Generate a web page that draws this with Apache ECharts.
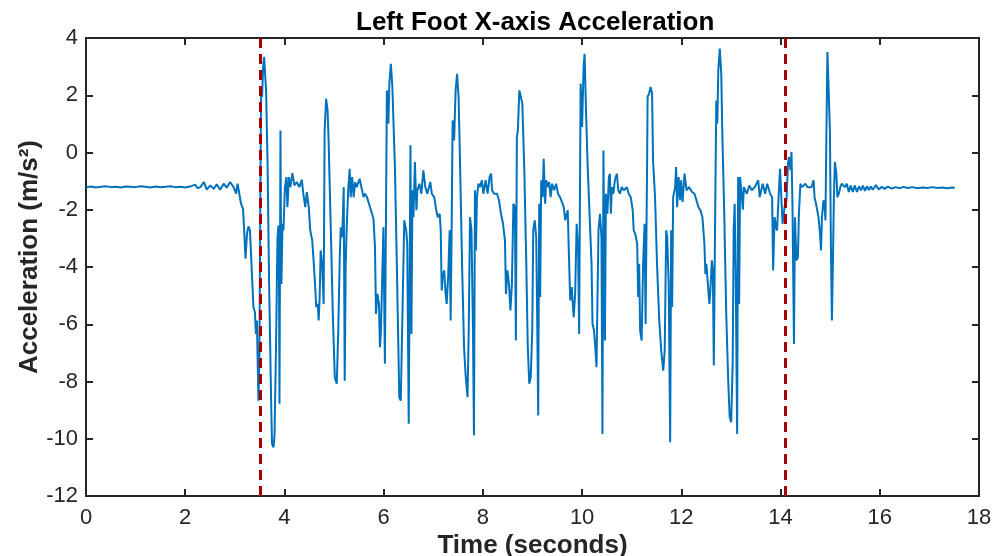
<!DOCTYPE html>
<html>
<head>
<meta charset="utf-8">
<script src="https://cdn.jsdelivr.net/npm/echarts@6/dist/echarts.min.js"></script>
<style>html,body{margin:0;padding:0;background:#fff}#chart{width:995px;height:556px}</style>
</head>
<body>
<div id="chart"></div>
<script>
const time = [
0,0.1,0.2,0.3,0.4,0.5,0.6,0.7,0.8,0.9,1.0,1.1,1.2,1.3,1.4,1.5,1.6,1.7,1.8,1.9,2.0,2.1,2.2,2.25,
2.305,2.375,2.435,2.505,2.575,2.635,2.705,2.775,2.835,2.905,2.975,3.025,3.055,3.095,3.125,3.165,3.185,3.215,3.245,3.275,3.305,3.345,3.375,3.405,3.425,3.445,3.475,3.495,
3.52,3.53,3.55,3.57,3.59,3.61,3.63,3.66,3.69,3.73,3.75,3.78,3.8,3.83,3.86,3.88,3.89,3.9,3.92,3.93,3.94,3.96,3.98,4.01,4.04,4.06,4.09,4.12,4.16,4.2,4.25,4.3,4.35,4.38,4.42,4.45,4.49,4.52,4.56,4.6,4.62,4.64,4.67,4.69,4.71,4.73,4.76,4.79,4.81,4.84,4.87,4.89,
4.935,4.975,5.015,5.035,5.055,5.085,5.115,5.135,5.165,5.195,5.215,5.235,5.255,5.285,5.315,5.335,5.365,5.395,5.425,5.455,5.515,5.565,5.595,5.625,5.665,5.725,5.765,5.795,5.825,5.845,5.875,5.905,5.925,5.945,
5.995,6.025,6.065,6.095,6.115,6.145,6.175,6.225,6.265,6.315,6.345,6.375,6.415,6.455,6.475,6.505,
6.54,6.56,6.58,6.6,6.63,6.66,6.68,6.72,6.76,6.8,6.84,6.88,6.94,6.97,7.02,7.06,7.09,7.13,7.15,7.17,7.19,7.22,7.25,7.27,7.3,7.33,7.35,7.37,7.39,7.42,7.45,7.48,7.51,7.54,7.58,7.62,7.65,7.69,7.715,7.74,7.77,7.8,7.82,7.84,7.86,7.88,7.91,7.94,7.98,8.01,
8.055,8.095,8.135,8.165,8.185,8.225,8.285,8.325,8.365,8.405,8.445,8.465,8.495,8.525,8.555,8.585,8.615,8.645,8.665,8.685,8.705,8.735,8.765,8.795,8.835,8.875,8.905,8.935,8.965,8.995,9.015,9.045,9.075,9.095,9.115,9.135,9.155,9.175,9.205,9.225,9.255,9.275,9.315,9.335,9.365,9.395,9.435,9.475,9.515,9.555,
9.59,9.63,9.66,9.71,9.73,9.76,9.79,9.83,9.86,9.89,9.92,9.94,9.97,10.0,10.03,10.05,10.08,10.11,10.15,10.19,10.21,10.24,10.27,10.29,10.33,10.36,10.39,10.41,10.43,10.46,10.48,10.51,10.54,10.56,10.58,10.6,10.63,10.66,10.7,10.73,10.76,10.8,10.84,10.9,10.94,10.98,11.02,11.04,11.07,11.11,11.13,11.15,11.17,11.2,11.23,11.26,11.28,11.31,11.32,11.35,11.38,11.41,11.43,11.47,11.51,
11.555,11.595,11.635,11.665,11.695,11.715,11.745,11.775,11.795,11.815,11.835,11.875,11.895,11.915,11.945,11.975,11.995,12.025,12.065,12.105,12.155,12.215,12.265,12.305,12.345,12.385,12.425,12.465,12.485,12.505,12.535,12.565,12.585,12.615,12.635,12.655,12.685,12.705,12.725,12.745,12.775,12.805,12.825,12.865,12.905,12.945,12.975,13.005,13.035,13.055,13.075,13.095,13.125,13.145,13.165,13.185,
13.22,13.24,13.26,13.32,13.37,13.42,13.48,13.55,13.58,13.64,13.69,13.73,13.79,13.83,13.85,13.88,13.91,13.93,13.96,13.99,14.01,14.04,14.07,14.09,14.12,14.15,14.17,14.2,14.22,14.24,14.27,14.29,14.32,14.35,14.37,14.4,14.43,14.45,14.5,
14.545,14.585,14.625,14.665,14.685,14.715,14.745,14.765,14.795,14.815,14.835,14.865,14.885,14.905,14.925,14.945,14.965,14.995,15.015,15.035,15.055,15.075,15.095,15.125,15.145,15.175,15.205,15.235,15.265,15.295,15.335,15.375,15.415,15.455,15.495,
15.54,15.58,15.62,15.66,15.7,15.74,15.78,15.82,15.86,15.92,15.98,16.04,16.1,16.16,16.24,16.32,16.4,16.48,16.56,16.66,16.76,16.86,16.96,17.06,17.16,17.26,17.36,17.46,17.51
];
const accel = [
-1.21,-1.19,-1.22,-1.2,-1.18,-1.21,-1.2,-1.22,-1.19,-1.2,-1.21,-1.18,-1.2,-1.22,-1.19,-1.21,-1.2,-1.18,-1.21,-1.2,-1.22,-1.19,-1.12,-1.25,
-1.21,-1.03,-1.3,-1.15,-1.27,-1.11,-1.3,-1.09,-1.23,-1.03,-1.21,-1.44,-1.09,-1.03,-1.79,-1.97,-2.61,-3.71,-2.84,-2.58,-2.72,-2.66,-5.4,-5.58,-6.34,-5.87,-8.67,-7.15,
-0.04,2.29,1.94,2.99,3.34,2.75,2.17,-0.39,-4.47,-8.55,-10.18,-10.3,-9.89,-6.8,-2.96,-2.55,-4.47,-8.78,0.77,-2.72,-4.59,-2.49,-2.72,-1.21,-0.86,-1.91,-0.86,-1.21,-0.72,-1.15,-1.03,-1.21,-0.95,-1.44,-1.91,-1.38,-1.91,-2.72,-3.07,-4.12,-4.7,-5.4,-5.29,-5.87,-5.05,-3.42,-3.89,-5.29,0.77,1.88,1.47,0.42,
-2.72,-5.64,-7.85,-7.97,-8.08,-6.22,-3.66,-2.61,-2.96,-1.21,-7.97,-3.89,-2.61,-1.32,-0.57,-1.56,-0.86,-1.56,-1.03,-1.21,-0.92,-1.32,-1.56,-1.44,-1.56,-1.91,-2.14,-2.32,-3.31,-5.64,-4.94,-5.29,-6.8,-6.22,
-2.61,-7.38,2.17,1.01,2.41,3.1,2.3,-0.39,-3.89,-8.55,-8.67,-8.73,-2.37,-2.72,-3.19,-9.48,
0.25,-6.34,-1.32,-2.26,-0.33,-2.02,-1.32,-1.09,-1.44,-0.62,-1.21,-1.44,-1.03,-1.44,-1.56,-2.02,-2.26,-2.14,-2.72,-4.82,-4.35,-4.12,-4.94,-5.29,-4.35,-2.72,-5.87,-2.72,1.12,0.42,2.17,2.75,1.94,-0.39,-3.89,-6.8,-7.73,-8.55,-6.22,-2.26,-2.72,-6.22,-9.89,-1.32,-3.42,-1.56,-1.09,-1.21,-0.97,-1.44,
-0.97,-1.44,-0.86,-0.74,-1.32,-1.44,-1.44,-1.67,-2.14,-2.49,-3.07,-4.94,-4.12,-4.59,-5.52,-4.59,-1.79,-1.91,-6.57,0.54,0.77,2.17,2.23,1.71,-0.62,-3.89,-6.8,-8.08,-7.85,-6.22,-2.72,-2.37,-2.96,-5.87,-9.19,-1.79,-5.05,-0.97,-1.56,-0.22,-1.79,-0.97,-1.21,-1.03,-1.56,-1.09,-1.32,-1.09,-1.44,-1.56,
-1.6,-1.9,-2.37,-2.02,-3.31,-5.17,-4.7,-5.75,-4.94,-2.49,-3.42,-6.34,2.41,0.89,2.99,3.45,1.36,-0.39,-2.14,-3.89,-5.99,-6.22,-6.92,-7.5,-2.72,-2.14,-2.96,-9.83,0.07,-6.57,-1.44,-2.14,-0.86,-0.74,-2.14,-1.21,-1.44,-0.97,-0.74,-1.32,-1.44,-1.21,-1.32,-1.21,-1.44,-1.56,-2.02,-2.72,-2.84,-3.19,-5.05,-3.89,-6.22,-6.57,-3.89,-2.49,-5.99,-0.39,1.94,2.06,2.29,2.06,-0.28,-1.56,-3.89,
-5.87,-6.92,-7.62,-6.92,-2.72,-2.96,-4.59,-10.12,-2.72,-5.4,-1.56,-1.21,-0.51,-1.91,-0.86,-1.67,-0.97,-1.73,-0.74,-1.32,-1.21,-1.38,-1.44,-1.67,-1.91,-2.02,-2.26,-3.19,-4.24,-3.89,-4.59,-5.29,-4.82,-3.77,-4.12,-7.44,-1.56,1.82,1.01,2.87,3.63,2.75,0.77,-2.14,-5.64,-7.97,-9.25,-9.42,-7.38,-2.72,-1.79,-4.12,-9.83,-0.86,-5.29,-0.86,
-1.56,-2.0,-1.21,-1.44,-1.15,-1.32,-1.21,-0.97,-1.56,-1.09,-1.44,-1.09,-1.44,-1.56,-4.12,-2.26,-2.61,-2.72,-1.56,-0.57,-0.62,-2.49,-2.55,-1.79,-1.67,-0.39,-0.16,-0.62,0.02,-1.79,-6.69,-2.26,-3.77,-3.66,-2.14,-1.09,-1.21,-1.15,-1.09,
-1.21,-1.15,-1.21,-0.97,-1.56,-1.79,-1.79,-2.26,-2.84,-3.42,-2.26,-1.67,-1.79,-2.37,0.77,3.51,3.45,0.77,-3.31,-5.87,-3.89,-1.56,-0.33,-0.74,-1.56,-1.44,-1.21,-1.09,-1.03,-1.21,-1.09,-1.38,-1.15,-1.38,-1.15,
-1.38,-1.18,-1.32,-1.16,-1.34,-1.18,-1.31,-1.19,-1.3,-1.14,-1.29,-1.2,-1.27,-1.19,-1.26,-1.21,-1.25,-1.2,-1.24,-1.21,-1.25,-1.22,-1.24,-1.21,-1.24,-1.22,-1.25,-1.22,-1.24
];
const markerTimes = [3.525, 14.087];
const xRange = [0, 18, 2];
const yRange = [-12, 4, 2];

const FONT = '"Liberation Sans", Arial, Helvetica, sans-serif';
const AX = '#262626';
const lineData = time.map((t, i) => [t, accel[i]]);

function baseAxis(r, show) {
  return {
    type: 'value', min: r[0], max: r[1], interval: r[2],
    axisLine: { show: true, onZero: false, lineStyle: { color: AX, width: 2 } },
    axisTick: { show: true, inside: true, length: 7, lineStyle: { color: AX, width: 2 } },
    axisLabel: { show: show, color: AX, fontSize: 22, fontFamily: FONT },
    splitLine: { show: false }
  };
}

const chart = echarts.init(document.getElementById('chart'), null, { renderer: 'canvas' });
const bx = baseAxis(xRange, true);
bx.position = 'bottom';
bx.axisLabel.margin = 11;
bx.name = 'Time (seconds)';
bx.nameLocation = 'middle';
bx.nameGap = 37;
bx.nameMoveOverlap = false;
bx.nameTextStyle = { fontSize: 26, fontWeight: 'bold', color: AX, fontFamily: FONT };
const tx = baseAxis(xRange, false); tx.position = 'top';
const ly = baseAxis(yRange, true);
ly.position = 'left';
ly.axisLabel.margin = 8;
ly.name = 'Acceleration (m/s²)';
ly.nameLocation = 'middle';
ly.nameGap = 43;
ly.nameMoveOverlap = false;
ly.nameTextStyle = { fontSize: 26, fontWeight: 'bold', color: AX, fontFamily: FONT, padding: [0, 0, 0, 20] };
const ry = baseAxis(yRange, false); ry.position = 'right';

chart.setOption({
  animation: false,
  backgroundColor: '#fff',
  title: {
    text: 'Left Foot X-axis Acceleration', left: 351, top: 5,
    textStyle: { fontSize: 26, fontWeight: 'bold', color: '#000', fontFamily: FONT }
  },
  grid: { left: 86, right: 16, top: 38, bottom: 60, containLabel: false, outerBoundsMode: 'none' },
  xAxis: [bx, tx],
  yAxis: [ly, ry],
  series: [{
    type: 'line', xAxisIndex: 0, yAxisIndex: 0,
    data: lineData, showSymbol: false, symbol: 'none',
    lineStyle: { color: '#0072BD', width: 2 },
    z: 2,
    markLine: {
      silent: true, symbol: ['none', 'none'], label: { show: false },
      lineStyle: { color: '#A80000', width: 3, type: [10, 6] },
      data: markerTimes.map(t => ({ xAxis: t }))
    }
  }]
});
</script>
</body>
</html>
